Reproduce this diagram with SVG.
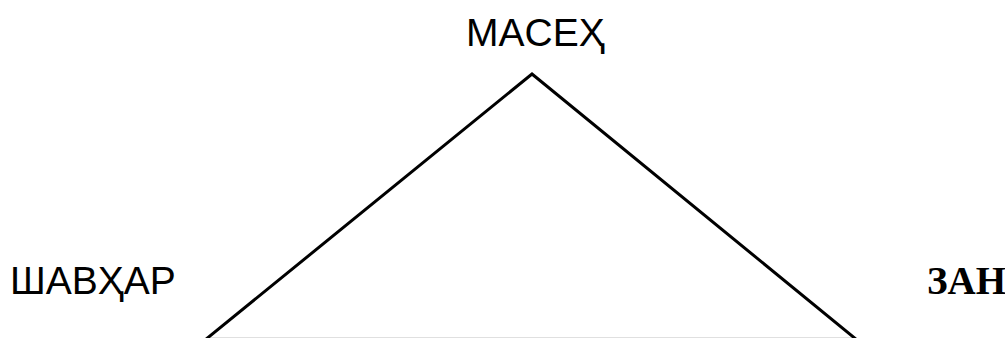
<svg xmlns="http://www.w3.org/2000/svg" width="1005" height="338" viewBox="0 0 1005 338">
<style>
.lbl{font-family:"Liberation Sans",Arial,sans-serif;font-size:39px;fill:#000}
.bold{font-family:"Liberation Serif","Times New Roman",serif;font-size:39px;font-weight:bold;fill:#000}
.edge{fill:none;stroke:#000;stroke-width:3}
</style>
<rect width="1005" height="338" fill="#fff"/>
<g id="connectors">
<line x1="210" y1="337.5" x2="852" y2="337.5" stroke="#e0e0e0" stroke-width="1"/>
<polyline class="edge" points="205,340 532,74 857,340"/>
</g>
<g id="node-top"><text class="lbl" x="466" y="46">MACEҲ</text></g>
<g id="node-left"><text class="lbl" x="10" y="294">ШАВҲАР</text></g>
<g id="node-right"><text class="bold" x="927" y="294">ЗАН</text></g>
</svg>
